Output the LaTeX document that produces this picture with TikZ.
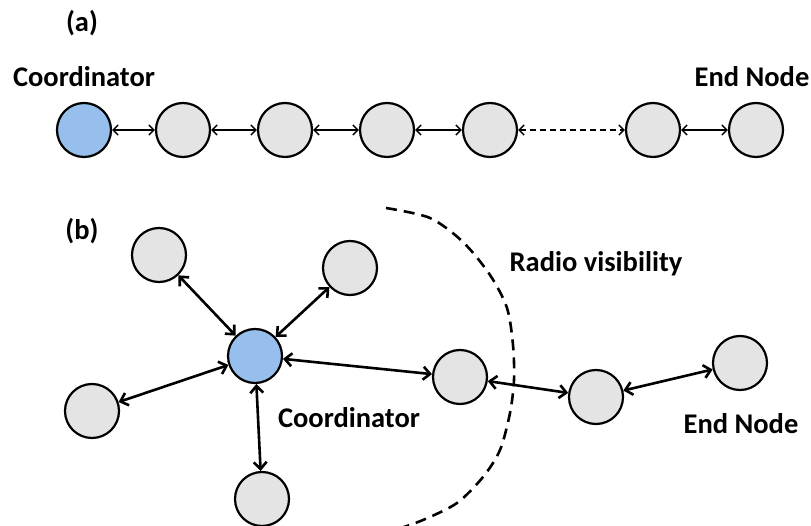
\documentclass[tikz,border=0pt]{standalone}
\usepackage{fontspec}
\setmainfont{Carlito}
\usetikzlibrary{arrows.meta}
\definecolor{nodegray}{RGB}{228,228,228}
\definecolor{coordblue}{RGB}{150,191,237}
\begin{document}
\begin{tikzpicture}[x=1pt,y=-1pt,
  nd/.style={circle,draw,line width=2.2pt,fill=nodegray,minimum size=54pt,inner sep=0pt},
  coordnd/.style={nd,fill=coordblue},
  lbl/.style={font=\fontsize{28.5}{34}\selectfont\bfseries,anchor=base,inner sep=0pt},
  thinarr/.style={{Straight Barb[length=5pt,width=10pt]}-{Straight Barb[length=5pt,width=10pt]},line width=1.5pt},
  thickarr/.style={{Straight Barb[length=7pt,width=13pt]}-{Straight Barb[length=7pt,width=13pt]},line width=2.6pt},
  arcline/.style={line width=2.6pt,dash pattern=on 11pt off 7pt}
  ]
\useasboundingbox (0,0) rectangle (811,526);
% (a)
\node[lbl] (la) at (82,32) {(a)};
\node[lbl] (lac) at (84,87) {Coordinator};
\node[lbl] (lae) at (752,87) {End Node};
\node[coordnd] (a1) at (84,130) {};
\node[nd] (a2) at (183,130) {};
\node[nd] (a3) at (285,130) {};
\node[nd] (a4) at (387,130) {};
\node[nd] (a5) at (490,130) {};
\node[nd] (a6) at (653,130) {};
\node[nd] (a7) at (756,130) {};
\draw[thinarr] (a1) -- (a2);
\draw[thinarr] (a2) -- (a3);
\draw[thinarr] (a3) -- (a4);
\draw[thinarr] (a4) -- (a5);
\draw[thinarr,dash pattern=on 6pt off 4pt] (a5) -- (a6);
\draw[thinarr] (a6) -- (a7);
% (b)
\node[lbl] (lb) at (82,240) {(b)};
\node[lbl] (lbc) at (349,427) {Coordinator};
\node[lbl] (lbr) at (596,272) {Radio visibility};
\node[lbl] (lbe) at (741,433) {End Node};
\node[coordnd] (c) at (255,356) {};
\node[nd] (tl) at (159,255) {};
\node[nd] (tr) at (350,268) {};
\node[nd] (l) at (92,411) {};
\node[nd] (bt) at (262,499) {};
\node[nd] (r1) at (460,377) {};
\node[nd] (r2) at (596,397) {};
\node[nd] (r3) at (740,363) {};
\draw[thickarr] (c) -- (tl);
\draw[thickarr] (c) -- (tr);
\draw[thickarr] (c) -- (l);
\draw[thickarr] (c) -- (bt);
\draw[thickarr] (c) -- (r1);
\draw[thickarr] (r1) -- (r2);
\draw[thickarr] (r2) -- (r3);
\draw[arcline] plot[smooth] coordinates {(386,208) (430,218) (463,242) (490,275) (507,308) (513,345) (514,380) (510,413) (500,450) (483,477) (457,503) (423,520) (395,530)};
\end{tikzpicture}
\end{document}
